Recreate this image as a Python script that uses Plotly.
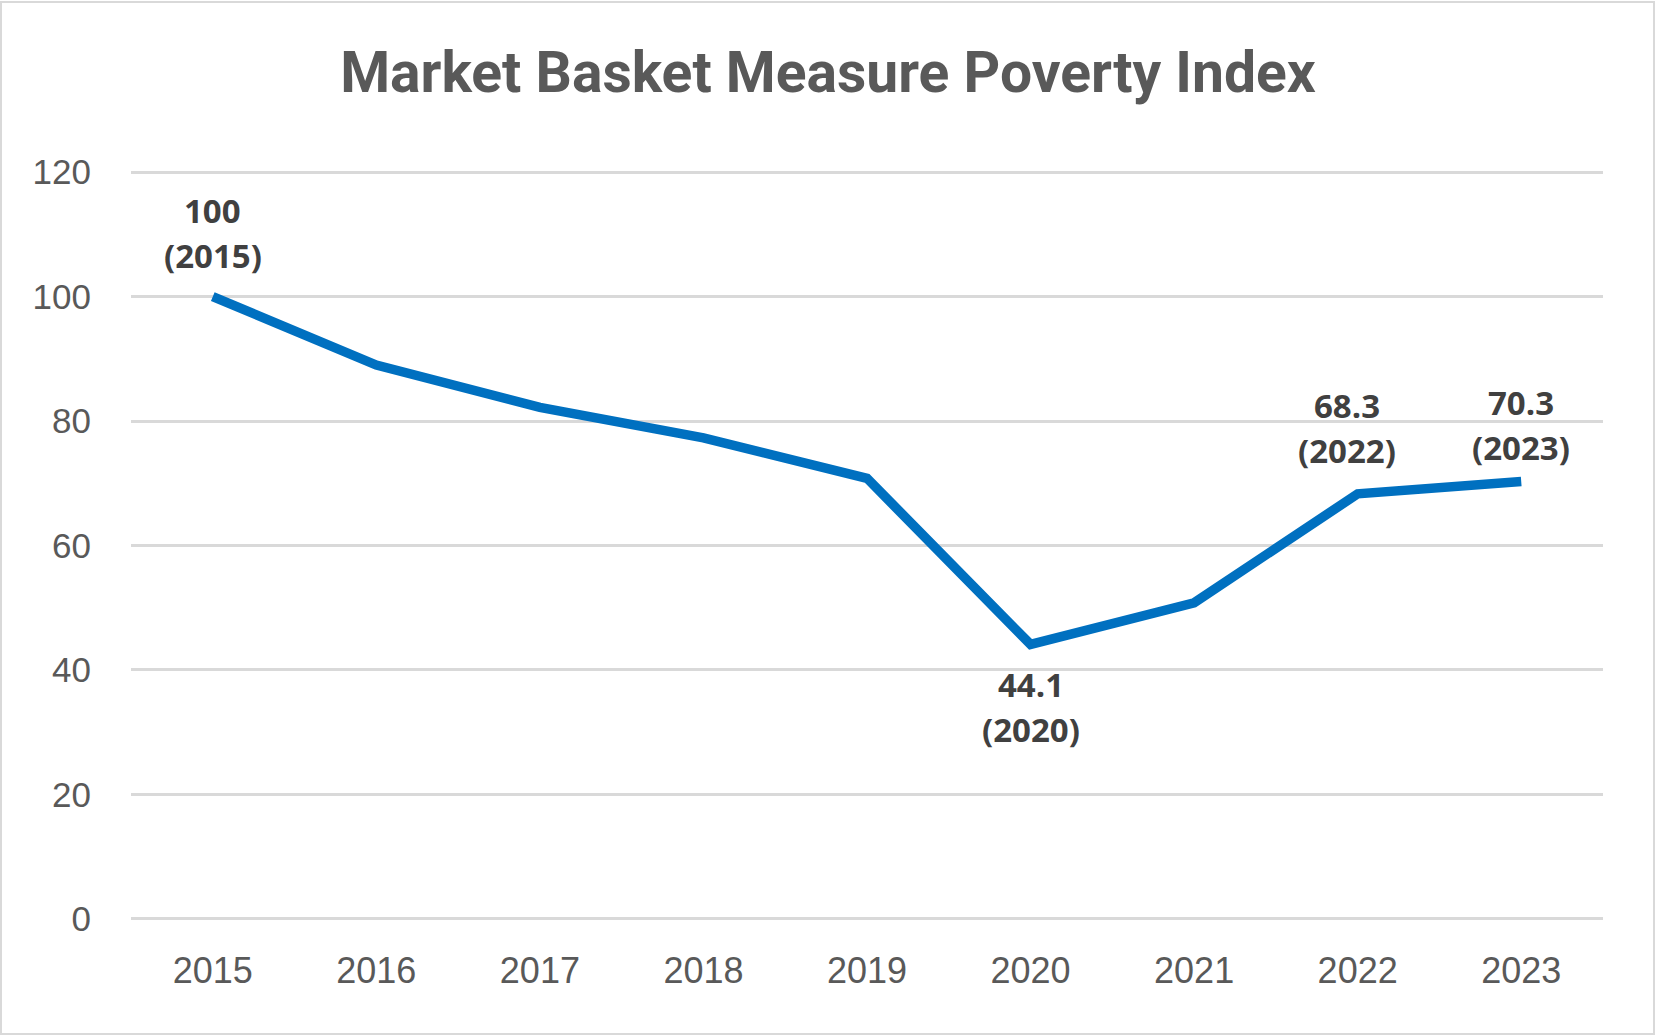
import plotly.graph_objects as go

years = ["2015", "2016", "2017", "2018", "2019", "2020", "2021", "2022", "2023"]
index_values = [100, 89.0, 82.2, 77.3, 70.8, 44.1, 50.8, 68.3, 70.3]
labelled_years = ["2015", "2020", "2022", "2023"]
y_ticks = [0, 20, 40, 60, 80, 100, 120]

# label offsets (px): (value-line yshift, year-line yshift, xshift), relative to the data point
label_offsets = {"2015": (86, 41, 0), "2020": (-40, -85, 0), "2022": (88, 43, -11), "2023": (79, 34, 0)}

W, H = 1656, 1036
PAD_U = 0.5                      # range padding in data units so edge gridlines are drawn
PX_PER_U = (919 - 172) / 120.0
L, R = 131, 53
T = round(172 - PAD_U * PX_PER_U)
B = round(H - 919 - PAD_U * PX_PER_U)

fig = go.Figure()
fig.add_trace(go.Scatter(
    x=years, y=index_values, mode="lines",
    line=dict(color="#0070C0", width=9.5, shape="linear"),
    hoverinfo="skip", showlegend=False,
))

label_font = dict(family="Open Sans, Noto Sans, sans-serif", size=33, color="#404040")
annotations = []
for yr in labelled_years:
    i = years.index(yr)
    v = index_values[i]
    s1, s2, xs = label_offsets[yr]
    annotations.append(dict(x=i, y=v, xref="x", yref="y", text=f"<b>{v:g}</b>", showarrow=False,
                            yanchor="middle", xanchor="center", yshift=s1, xshift=xs, font=label_font))
    annotations.append(dict(x=i, y=v, xref="x", yref="y", text=f"<b>({yr})</b>", showarrow=False,
                            yanchor="middle", xanchor="center", yshift=s2, xshift=xs, font=label_font))

pw = W - L - R
ph = H - T - B
fig.add_shape(type="rect", xref="paper", yref="paper",
              x0=(1 - L) / pw, x1=(W - 2 - L) / pw,
              y0=-(B - 2) / ph, y1=(H - 2 - B) / ph,
              line=dict(color="#D9D9D9", width=2), fillcolor="rgba(0,0,0,0)", layer="below")

fig.update_layout(
    width=W, height=H,
    margin=dict(l=L, r=R, t=T, b=B, pad=0),
    paper_bgcolor="white", plot_bgcolor="white",
    title=dict(text="<b>Market Basket Measure Poverty Index</b>", x=0.5, xref="container", xanchor="center",
               y=1 - 72 / H, yref="container", yanchor="middle",
               font=dict(family="Roboto, sans-serif", size=57, color="#595959")),
    annotations=annotations,
    font=dict(family="Liberation Sans, Arial, sans-serif", color="#595959"),
)
fig.update_xaxes(
    type="category", range=[-0.5, 8.5], showgrid=False, showline=False, zeroline=False,
    ticks="", tickfont=dict(size=36, color="#595959", family="Liberation Sans, Arial, sans-serif"),
    ticklabelstandoff=24, fixedrange=True,
)
fig.update_yaxes(
    range=[-PAD_U, 120 + PAD_U], tickvals=y_ticks, showgrid=True, gridcolor="#D9D9D9", gridwidth=2.5,
    zeroline=False, showline=False, ticks="",
    tickfont=dict(size=35, color="#595959", family="Liberation Sans, Arial, sans-serif"),
    ticklabelstandoff=39, fixedrange=True,
)

fig.write_html("out.html", config={"displayModeBar": False},
               post_script="document.body.style.margin='0';")
